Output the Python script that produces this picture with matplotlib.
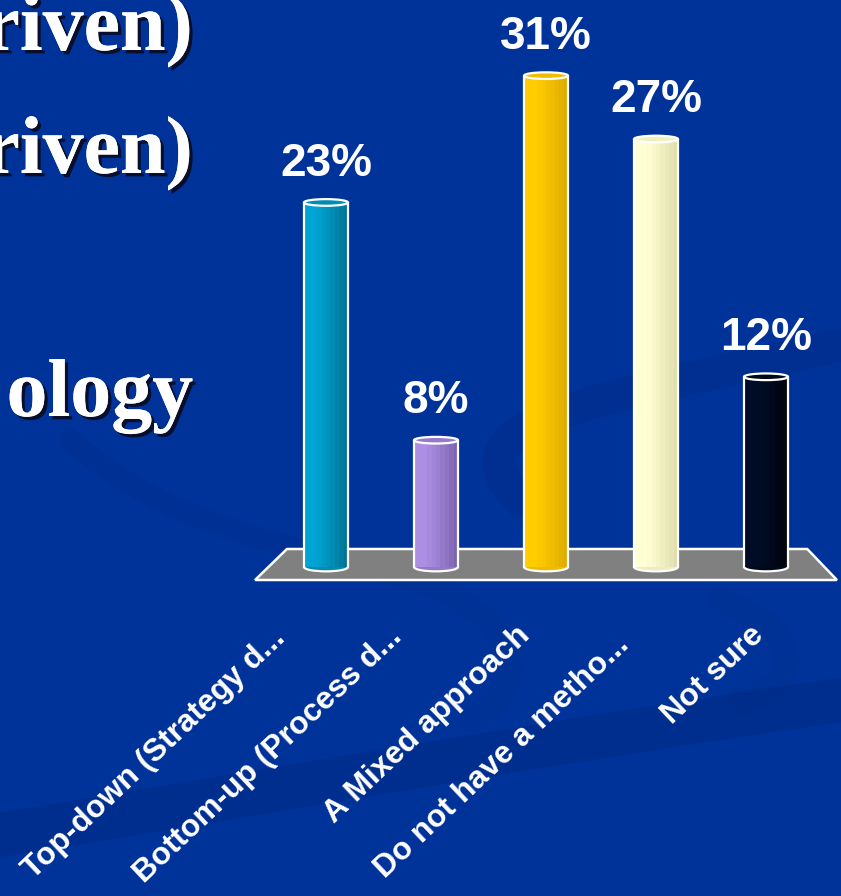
import numpy as np
import matplotlib
matplotlib.use("Agg")
import matplotlib.pyplot as plt
from matplotlib.patches import Ellipse, Polygon, PathPatch
from matplotlib.path import Path
from matplotlib.colors import to_rgb
import matplotlib.patheffects as pe

# ---- data -------------------------------------------------------------
categories = [
    "Top-down (Strategy d...",
    "Bottom-up (Process d...",
    "A Mixed approach",
    "Do not have a metho...",
    "Not sure",
]
shares = [23, 8, 31, 27, 12]
share_labels = ["23%", "8%", "31%", "27%", "12%"]

# slide body text peeking out at the left
body_lines = ["riven)", "riven)", "ology"]

# ---- styles -----------------------------------------------------------
BG = "#003399"
bar_light = ["#00A4D4", "#AC8EE2", "#FFCC00", "#FFFFD4", "#000C26"]
bar_dark = ["#00708F", "#7A62AC", "#DCA900", "#DEDBAA", "#00030C"]
label_dx = [-0.50, -0.44, -0.28, -0.38, -0.15]   # label anchor shift (bar units)
label_dy_px = [623, 622, 620, 630, 620]          # label anchor height (pixels)

W, H = 841, 896
fig = plt.figure(figsize=(W / 100, H / 100), dpi=100, facecolor=BG)

# background layer in pixel units
bg = fig.add_axes([0, 0, 1, 1])
bg.set_xlim(0, W)
bg.set_ylim(H, 0)
bg.axis("off")
bg.set_facecolor(BG)


def swoosh(pts, lw, alpha, color="#00287F"):
    codes = [Path.MOVETO] + [Path.CURVE4] * (len(pts) - 1)
    bg.add_patch(PathPatch(Path(pts, codes), fill=False, lw=lw,
                           edgecolor=color, alpha=alpha, capstyle="round"))


swoosh([(0, 835), (280, 790), (560, 740), (841, 700)], 32, 0.4)
swoosh([(520, 500), (440, 420), (600, 400), (841, 345)], 24, 0.3)
swoosh([(70, 440), (160, 520), (280, 545), (380, 570)], 16, 0.22)
swoosh([(380, 570), (520, 600), (540, 690), (470, 720)], 18, 0.18)
swoosh([(720, 600), (810, 630), (800, 690), (740, 700)], 18, 0.18)

# body text of the slide (serif with drop shadow)
for txt, ybase in zip(body_lines, [50, 173, 416]):
    bg.text(193, ybase, txt, ha="right", va="baseline", color="white",
            fontsize=59, fontweight="bold", family="Liberation Serif",
            path_effects=[pe.withSimplePatchShadow(offset=(2.4, -2.4),
                                                   shadow_rgbFace="#0A0A20",
                                                   alpha=0.9),
                          pe.Normal()])

# ---- chart axes ---------------------------------------------------------
px_per_unit = 15.85
base_px = 567
ax_bottom_px = 582
ax = fig.add_axes([254 / W, (H - ax_bottom_px) / H, 584 / W, ax_bottom_px / H])
ax.set_xlim(-0.6545, 4.6545)
ax.set_ylim(-(ax_bottom_px - base_px) / px_per_unit, base_px / px_per_unit)
ax.axis("off")
ax.patch.set_alpha(0)

# floor of the 3-D plot area
floor_top = (base_px - 549) / px_per_unit
floor_bot = -(580 - base_px) / px_per_unit
ax.add_patch(Polygon([(-0.645, floor_bot), (4.645, floor_bot),
                      (4.375, floor_top), (-0.355, floor_top)],
                     closed=True, facecolor="#808080", edgecolor="white",
                     lw=1.8, zorder=1))

x = np.arange(len(shares))
bw = 0.4
n_strips = 10
strip_w = bw / n_strips

for i, v in enumerate(shares):
    c0 = np.array(to_rgb(bar_light[i]))
    c1 = np.array(to_rgb(bar_dark[i]))
    # rounded base
    ax.add_patch(Ellipse((x[i], 0), bw, 0.55, facecolor=c1 * 0.5 + c0 * 0.5,
                         edgecolor="white", lw=1.6, zorder=2))
    # shaded cylinder body
    for k in range(n_strips):
        t = (k + 0.5) / n_strips
        f = np.clip((t - 0.25) / 0.75, 0, 1) ** 1.2
        col = c0 * (1 - f) + c1 * f
        ax.bar(x[i] - bw / 2 + (k + 0.5) * strip_w, v, width=strip_w * 1.02,
               color=col, edgecolor="none", zorder=3)
    ax.vlines([x[i] - bw / 2, x[i] + bw / 2], 0, v, colors="white",
              lw=1.6, zorder=4)
    # top cap
    ax.add_patch(Ellipse((x[i], v), bw, 0.42,
                         facecolor=c0 * 0.55 + c1 * 0.45,
                         edgecolor="white", lw=1.6, zorder=5))
    # value label
    ax.text(x[i], v + 1.7, share_labels[i], ha="center", va="baseline",
            color="white", fontsize=33, fontweight="bold",
            family="Liberation Sans", zorder=6)
    # category label
    ax.text(x[i] + label_dx[i], -(label_dy_px[i] - base_px) / px_per_unit,
            categories[i], rotation=43.5, rotation_mode="anchor",
            ha="right", va="top", color="white", fontsize=22.8,
            fontweight="bold", family="Liberation Sans", clip_on=False,
            zorder=6)

fig.savefig("out.png", dpi=100, facecolor=BG)
